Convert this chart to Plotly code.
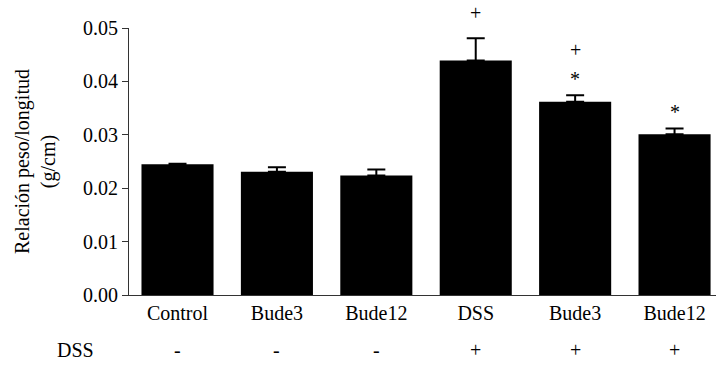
import plotly.graph_objects as go

categories = ["Control", "Bude3", "Bude12", "DSS", "Bude3 ", "Bude12 "]
tick_labels = ["Control", "Bude3", "Bude12", "DSS", "Bude3", "Bude12"]
means = [0.0245, 0.0231, 0.0224, 0.0439, 0.0362, 0.0301]
sem = [0.0001, 0.0008, 0.0011, 0.0042, 0.0012, 0.0011]
dss_row = ["-", "-", "-", "+", "+", "+"]
plus_marks = ["", "", "", "+", "+", ""]
star_marks = ["", "", "", "", "*", "*"]

FONT = "Liberation Serif"
FS = 20
YMAX = 0.05
xs = list(range(len(categories)))

fig = go.Figure()
fig.add_trace(go.Bar(
    x=xs, y=means, width=0.725,
    marker=dict(color="black", line=dict(width=0)),
    error_y=dict(type="data", symmetric=False, array=sem,
                 arrayminus=[0] * len(sem), color="black",
                 thickness=2, width=9),
    showlegend=False,
))

annotations = []
for i, (p, s) in enumerate(zip(plus_marks, star_marks)):
    top = means[i] + sem[i]
    if s:
        annotations.append(dict(x=i, y=(top + 0.0030) / YMAX, text=s,
                                showarrow=False, xref="x", yref="paper",
                                xanchor="center", yanchor="middle",
                                font=dict(family=FONT, size=FS, color="black")))
    if p:
        off = 0.0047 if not s else 0.0085
        annotations.append(dict(x=i, y=(top + off) / YMAX, text=p,
                                showarrow=False, xref="x", yref="paper",
                                xanchor="center", yanchor="middle",
                                font=dict(family=FONT, size=FS, color="black")))

PLOT_H = 365 - 28 - 70
PLOT_W = 716 - 129
row_y = -55 / PLOT_H
for i, t in enumerate(dss_row):
    annotations.append(dict(x=i, y=row_y, text=t, showarrow=False,
                            xref="x", yref="paper",
                            xanchor="center", yanchor="middle",
                            font=dict(family=FONT, size=FS, color="black")))
annotations.append(dict(x=(75 - 129) / PLOT_W, y=row_y, xref="paper",
                        yref="paper", text="DSS", showarrow=False,
                        xanchor="center", yanchor="middle",
                        font=dict(family=FONT, size=FS, color="black")))

fig.update_layout(
    width=716, height=365,
    margin=dict(l=129, r=0, t=28, b=70),
    paper_bgcolor="white", plot_bgcolor="white",
    font=dict(family=FONT, size=FS, color="black"),
    annotations=annotations,
    xaxis=dict(range=[-0.488, 5.417], tickmode="array", tickvals=xs,
               ticktext=tick_labels, showline=True, linecolor="#333",
               linewidth=1, ticks="", showgrid=False, zeroline=False,
               tickfont=dict(family=FONT, size=FS)),
    yaxis=dict(range=[0, YMAX], tickvals=[0, 0.01, 0.02, 0.03, 0.04, 0.05],
               ticktext=["0.00", "0.01", "0.02", "0.03", "0.04", "0.05"],
               showline=True, linecolor="#333", linewidth=1,
               ticks="outside", ticklen=6, tickcolor="#333",
               showgrid=False, zeroline=False,
               tickfont=dict(family=FONT, size=FS),
               title=dict(text="Relación peso/longitud<br>(g/cm)",
                          font=dict(family=FONT, size=FS), standoff=22)),
)

fig.write_html("out.html")
